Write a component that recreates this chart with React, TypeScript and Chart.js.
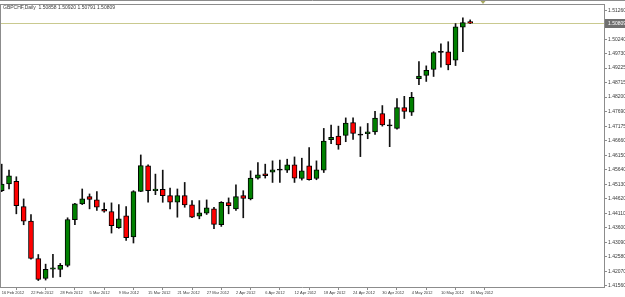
import React, { useEffect, useRef } from 'react';
import { Chart, registerables } from 'chart.js';

Chart.register(...registerables);

const symbol = 'GBPCHF,Daily';

const dates = [
  '16 Feb 2012', '17 Feb 2012', '20 Feb 2012', '21 Feb 2012', '22 Feb 2012', '23 Feb 2012', '24 Feb 2012', '27 Feb 2012', '28 Feb 2012', '29 Feb 2012',
  '1 Mar 2012', '2 Mar 2012', '5 Mar 2012', '6 Mar 2012', '7 Mar 2012', '8 Mar 2012', '9 Mar 2012', '12 Mar 2012', '13 Mar 2012', '14 Mar 2012',
  '15 Mar 2012', '16 Mar 2012', '19 Mar 2012', '20 Mar 2012', '21 Mar 2012', '22 Mar 2012', '23 Mar 2012', '26 Mar 2012', '27 Mar 2012', '28 Mar 2012',
  '29 Mar 2012', '30 Mar 2012', '2 Apr 2012', '3 Apr 2012', '4 Apr 2012', '5 Apr 2012', '6 Apr 2012', '9 Apr 2012', '10 Apr 2012', '11 Apr 2012',
  '12 Apr 2012', '13 Apr 2012', '16 Apr 2012', '17 Apr 2012', '18 Apr 2012', '19 Apr 2012', '20 Apr 2012', '23 Apr 2012', '24 Apr 2012', '25 Apr 2012',
  '26 Apr 2012', '27 Apr 2012', '30 Apr 2012', '1 May 2012', '2 May 2012', '3 May 2012', '4 May 2012', '7 May 2012', '8 May 2012', '9 May 2012',
  '10 May 2012', '11 May 2012', '14 May 2012', '15 May 2012', '16 May 2012',
];

const open = [
  1.44904, 1.45139, 1.45229, 1.44344, 1.43830, 1.42515, 1.41815, 1.42141, 1.42130, 1.42270,
  1.43879, 1.44439, 1.44694, 1.44579, 1.44250, 1.44170, 1.43599, 1.44019, 1.43271, 1.44880,
  1.45779, 1.44904, 1.44950, 1.44729, 1.44495, 1.44729, 1.44404, 1.44005, 1.44110, 1.44264,
  1.43704, 1.44484, 1.44264, 1.44729, 1.44614, 1.45348, 1.45499, 1.45558, 1.45628, 1.45628,
  1.45814, 1.45334, 1.45779, 1.45334, 1.45628, 1.46699, 1.46828, 1.46853, 1.47307, 1.46863,
  1.46908, 1.46978, 1.47622, 1.47188, 1.47097, 1.47832, 1.47668, 1.48846, 1.48962, 1.49172,
  1.49777, 1.49791, 1.49497, 1.50665, 1.50858,
];

const high = [
  1.45838, 1.45628, 1.45394, 1.44614, 1.44065, 1.42655, 1.42316, 1.42665, 1.42340, 1.43949,
  1.44460, 1.44964, 1.44789, 1.44869, 1.44474, 1.44474, 1.44414, 1.44344, 1.44904, 1.46163,
  1.45814, 1.45488, 1.45628, 1.44999, 1.44964, 1.45194, 1.44554, 1.44554, 1.44579, 1.44320,
  1.44519, 1.44649, 1.45114, 1.44904, 1.45604, 1.45894, 1.45838, 1.45954, 1.45978, 1.46013,
  1.46093, 1.46048, 1.46419, 1.45954, 1.47097, 1.47213, 1.47178, 1.47468, 1.47468, 1.47153,
  1.47272, 1.47703, 1.47902, 1.47412, 1.48147, 1.48227, 1.48367, 1.49452, 1.49301, 1.49801,
  1.50081, 1.50151, 1.50791, 1.50991, 1.50920,
];

const low = [
  1.44869, 1.44964, 1.44089, 1.43704, 1.42490, 1.41738, 1.41756, 1.41850, 1.41871, 1.42221,
  1.43704, 1.44414, 1.44264, 1.44205, 1.44145, 1.43411, 1.43575, 1.43155, 1.43061, 1.44869,
  1.44495, 1.44764, 1.44495, 1.44264, 1.43970, 1.44320, 1.43949, 1.43914, 1.44065, 1.43564,
  1.43645, 1.44089, 1.44205, 1.43949, 1.44579, 1.45313, 1.45348, 1.45194, 1.45194, 1.45544,
  1.45194, 1.45278, 1.45278, 1.45289, 1.45544, 1.46559, 1.46363, 1.46629, 1.46713, 1.46104,
  1.46734, 1.46887, 1.47178, 1.46454, 1.47073, 1.47447, 1.47552, 1.48637, 1.48752, 1.48927,
  1.49252, 1.49161, 1.49312, 1.49801, 1.50791,
];

const close = [
  1.45139, 1.45429, 1.44379, 1.43830, 1.42515, 1.41780, 1.42130, 1.42186, 1.42270, 1.43890,
  1.44439, 1.44614, 1.44600, 1.44320, 1.44180, 1.43669, 1.43914, 1.43250, 1.44869, 1.45789,
  1.44904, 1.44964, 1.44729, 1.44495, 1.44729, 1.44404, 1.43970, 1.44124, 1.44299, 1.43715,
  1.44495, 1.44379, 1.44694, 1.44635, 1.45348, 1.45464, 1.45429, 1.45639, 1.45628, 1.45814,
  1.45348, 1.45604, 1.45289, 1.45639, 1.46653, 1.46783, 1.46513, 1.47283, 1.46922, 1.46863,
  1.46978, 1.47458, 1.47223, 1.47188, 1.47832, 1.47692, 1.48192, 1.48937, 1.49147, 1.49766,
  1.49777, 1.49336, 1.50676, 1.50826, 1.50809,
];

const priceTickLabels = [
  '1.51260', '1.50750', '1.50240', '1.49730', '1.49225', '1.48715', '1.48200', '1.47690', '1.47175', '1.46660',
  '1.46150', '1.45640', '1.45130', '1.44620', '1.44110', '1.43600', '1.43090', '1.42580', '1.42070', '1.41560',
];

const dateTickStep = 4;

const AXIS_COLOR = '#8c8c8c';
const TEXT_COLOR = '#3a3a3a';
const FONT = 'Liberation Sans';

export default function App() {
  const ref = useRef<HTMLCanvasElement>(null);

  useEffect(() => {
    const canvas = ref.current;
    if (!canvas) return;
    const last = close.length - 1;

    const bodyColors = open.map((o, i) =>
      close[i] > o ? '#008000' : close[i] < o ? '#ff0000' : '#000000'
    );

    const decor = {
      id: 'decor',
      beforeDatasetsDraw(chart: any) {
        const { ctx, chartArea, scales } = chart;
        const py = Math.round(scales.y.getPixelForValue(close[last])) + 0.5;
        ctx.save();
        ctx.strokeStyle = '#c9c98f';
        ctx.lineWidth = 1;
        ctx.beginPath();
        ctx.moveTo(chartArea.left, py);
        ctx.lineTo(chartArea.right, py);
        ctx.stroke();
        ctx.restore();
      },
      afterDraw(chart: any) {
        const { ctx, chartArea, scales, width } = chart;
        ctx.save();
        ctx.strokeStyle = AXIS_COLOR;
        ctx.lineWidth = 1;
        ctx.beginPath();
        ctx.moveTo(0, 0.5);
        ctx.lineTo(width, 0.5);
        ctx.moveTo(chartArea.left + 0.5, chartArea.top);
        ctx.lineTo(chartArea.left + 0.5, chartArea.bottom);
        ctx.moveTo(chartArea.left, chartArea.top + 0.5);
        ctx.lineTo(chartArea.right, chartArea.top + 0.5);
        ctx.stroke();

        const py = Math.round(scales.y.getPixelForValue(close[last]));
        ctx.fillStyle = '#6f6f6f';
        ctx.fillRect(chartArea.right + 1, py - 4, width - chartArea.right - 1, 9);
        ctx.fillStyle = '#ffffff';
        ctx.font = `5px "${FONT}"`;
        ctx.textBaseline = 'middle';
        ctx.textAlign = 'left';
        ctx.fillText(close[last].toFixed(5), chartArea.right + 4, py + 0.5);

        ctx.fillStyle = TEXT_COLOR;
        ctx.fillText(
          `${symbol}  ${open[last].toFixed(5)} ${high[last].toFixed(5)} ${low[last].toFixed(5)} ${close[last].toFixed(5)}`,
          3,
          7.5
        );

        const sx = scales.x.getPixelForValue(last + 1.75);
        ctx.fillStyle = '#a8a860';
        ctx.beginPath();
        ctx.moveTo(sx - 2.5, 1);
        ctx.lineTo(sx + 2.5, 1);
        ctx.lineTo(sx, 4);
        ctx.closePath();
        ctx.fill();
        ctx.restore();
      },
    };

    const chart = new Chart(canvas, {
      type: 'bar',
      data: {
        datasets: [
          {
            label: 'body',
            data: dates.map((_, i) => ({ x: i, y: [open[i], close[i]] })) as any,
            backgroundColor: bodyColors,
            borderColor: '#000000',
            borderWidth: 1,
            borderSkipped: false,
            barThickness: 5,
            grouped: false,
            minBarLength: 1,
            order: 0,
          } as any,
          {
            label: 'wick',
            data: dates.map((_, i) => ({ x: i, y: [low[i], high[i]] })) as any,
            backgroundColor: '#111111',
            borderWidth: 0,
            barThickness: 1,
            grouped: false,
            order: 1,
          } as any,
        ],
      },
      options: {
        animation: false,
        responsive: false,
        events: [],
        layout: { padding: { top: 2, left: 0, right: 0, bottom: 0 } },
        plugins: {
          legend: { display: false },
          tooltip: { enabled: false },
          title: { display: false },
        },
        scales: {
          x: {
            type: 'linear',
            min: -0.232,
            max: 82.28,
            offset: false,
            grid: {
              display: true,
              drawOnChartArea: false,
              drawTicks: true,
              tickLength: 3,
              color: AXIS_COLOR,
            },
            border: { display: true, color: AXIS_COLOR },
            ticks: {
              align: 'start',
              padding: 0.5,
              autoSkip: false,
              maxRotation: 0,
              minRotation: 0,
              color: TEXT_COLOR,
              font: { size: 4, family: FONT },
              callback: (v: any) => dates[v as number] ?? '',
            },
            afterBuildTicks: (s: any) => {
              s.ticks = dates
                .map((_, i) => i)
                .filter((i) => i % dateTickStep === 0)
                .map((v) => ({ value: v }));
            },
            afterFit: (s: any) => {
              s.height = 10;
            },
          } as any,
          y: {
            type: 'linear',
            position: 'right',
            min: 1.41511,
            max: 1.5148,
            grid: {
              display: true,
              drawOnChartArea: false,
              drawTicks: true,
              tickLength: 3,
              color: AXIS_COLOR,
            },
            border: { display: true, color: AXIS_COLOR },
            ticks: {
              padding: 1,
              autoSkip: false,
              color: TEXT_COLOR,
              font: { size: 5, family: FONT },
              callback: (v: any) =>
                priceTickLabels.find((s) => Math.abs(parseFloat(s) - v) < 1e-7) ?? '',
            },
            afterBuildTicks: (s: any) => {
              s.ticks = priceTickLabels.map((t) => ({ value: parseFloat(t) }));
            },
            afterFit: (s: any) => {
              s.width = 21;
            },
          } as any,
        },
      },
      plugins: [decor],
    });

    return () => chart.destroy();
  }, []);

  return (
    <div style={{ position: 'absolute', left: 0, top: 0, width: 625, height: 297, background: '#ffffff' }}>
      <canvas ref={ref} width={625} height={297} style={{ width: 625, height: 297, display: 'block' }} />
    </div>
  );
}
